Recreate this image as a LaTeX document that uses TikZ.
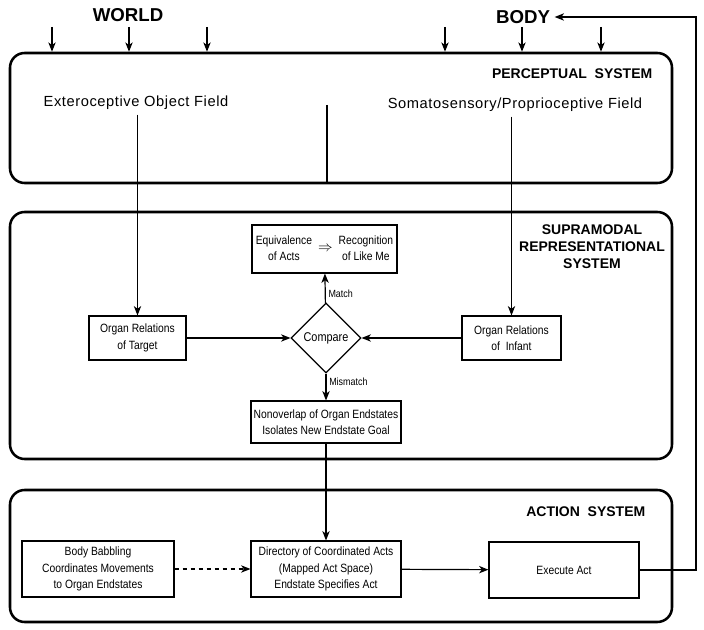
\documentclass[tikz,border=0pt]{standalone}
\usepackage{fontspec}
\setmainfont{Liberation Sans}
\newfontfamily\narrowfont[FakeStretch=0.86]{Liberation Sans}
\newfontfamily\widefont[LetterSpace=4]{Liberation Sans}
\usetikzlibrary{arrows.meta}
\usetikzlibrary{fit}
\usetikzlibrary{shapes.geometric}
\usetikzlibrary{positioning}

\tikzset{
  sysbox/.style={draw, line width=1.9pt, rounded corners=11pt, inner sep=0pt},
  inbox/.style={draw, line width=0.85pt, align=center, inner sep=2pt,
    font=\narrowfont\fontsize{9}{12.3}\selectfont},
  systitle/.style={font=\bfseries\fontsize{10.5}{12.75}\selectfont, align=center},
  field/.style={font=\widefont\fontsize{11}{12}\selectfont},
  edgelbl/.style={font=\narrowfont\fontsize{7.8}{8}\selectfont, inner sep=2pt},
  flow/.style={line width=0.9pt, -{Stealth[length=7pt,width=5.5pt,inset=2pt]}},
}

\begin{document}
\begin{tikzpicture}[x=0.75pt, y=-0.75pt]
  \useasboundingbox (0,0) rectangle (704,630);

  % outside
  \node[font=\bfseries\fontsize{14}{16}\selectfont] (world) at (128,15) {WORLD};
  \node[font=\bfseries\fontsize{14}{16}\selectfont] (body) at (523,17) {BODY};

  % the three systems
  \node[sysbox, fit={(10,53) (672,183)}] (percep) {};
  \node[sysbox, fit={(10,212) (672,459)}] (supra) {};
  \node[sysbox, fit={(10,490) (672,622)}] (action) {};

  \foreach \x in {52,129,207,445,522,601}
    \draw[flow] (\x,27) -- (\x,0 |- percep.north);

  \node[systitle, anchor=east] (perceptitle) at (657,74) {PERCEPTUAL\ \ SYSTEM};
  \node[systitle] (supratitle) at (592,247) {SUPRAMODAL\\REPRESENTATIONAL\\SYSTEM};
  \node[systitle, anchor=east] (actiontitle) at (650,512) {ACTION\ \ SYSTEM};

  % perceptual system
  \node[field] (extero) at (136,103) {Exteroceptive Object Field};
  \node[field] (somato) at (515,105) {Somatosensory/Proprioceptive Field};
  \coordinate (divtop) at (327,105);
  \draw[line width=1.9pt] (divtop) -- (divtop |- percep.south);

  % supramodal system
  \node[inbox, minimum width=108.75pt, minimum height=36pt] (equiv) at (324.5,249)
    {\begin{tabular}{@{}c@{}}Equivalence\\of Acts\end{tabular}\enspace{\fontsize{11}{11}\selectfont$\Rightarrow$}\enspace
     \begin{tabular}{@{}c@{}}Recognition\\of Like Me\end{tabular}};
  \node[draw, diamond, line width=0.85pt, minimum width=52.5pt, minimum height=52.5pt,
    inner sep=0pt, font=\narrowfont\fontsize{9.5}{10}\selectfont] (compare) at (326,338) {Compare};
  \node[inbox, minimum width=72.75pt, minimum height=33pt] (target) at (137.5,338)
    {Organ Relations\\of Target};
  \node[inbox, minimum width=74.25pt, minimum height=33pt] (infant) at (511.5,338)
    {Organ Relations\\of \ Infant};
  \node[inbox, minimum width=112.5pt, minimum height=31.5pt] (nonoverlap) at (326,422)
    {Nonoverlap of Organ Endstates\\Isolates New Endstate Goal};

  % action system
  \node[inbox, minimum width=114pt, minimum height=42pt] (babble) at (98,569)
    {Body Babbling\\Coordinates Movements\\to Organ Endstates};
  \node[inbox, minimum width=112.5pt, minimum height=42pt] (directory) at (326,569)
    {Directory of Coordinated Acts\\(Mapped Act Space)\\Endstate Specifies Act};
  \node[inbox, minimum width=112.5pt, minimum height=42pt] (execute) at (564,570)
    {Execute Act};

  % connectors
  \draw[flow] (target.north |- extero.south) -- (target.north);
  \draw[flow] (infant.north |- somato.south) -- (infant.north);
  \draw[flow] (target) -- (compare);
  \draw[flow] (infant) -- (compare);
  \draw[flow] (compare) -- node[pos=0.3, right, edgelbl] {Match} (equiv);
  \draw[flow] (compare) -- node[pos=0.3, right, edgelbl] {Mismatch} (nonoverlap);
  \draw[flow] (nonoverlap) -- (directory);
  \draw[flow, dashed] (babble) -- (directory);
  \draw[flow] (directory) -- (execute);
  \coordinate (turn) at (696,0);
  \draw[flow] (execute.east) -- (execute.east -| turn) -- (turn |- body) -- (body.east);
\end{tikzpicture}
\end{document}
